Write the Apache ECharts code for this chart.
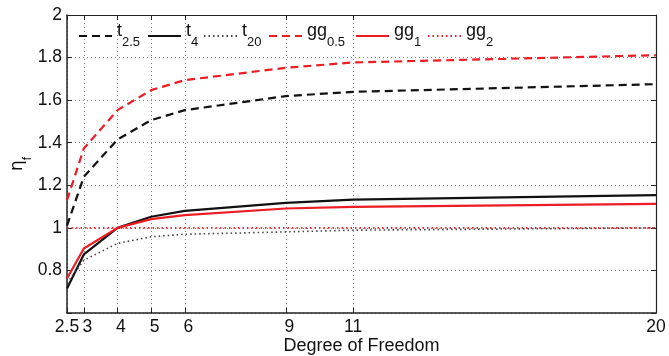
<!DOCTYPE html>
<html>
<head>
<meta charset="utf-8">
<script src="https://cdn.jsdelivr.net/npm/echarts@6/dist/echarts.min.js"></script>
<style>
  html, body { margin: 0; padding: 0; background: #fff; }
  #chart { width: 669px; height: 356px; }
</style>
</head>
<body>
<div id="chart"></div>
<script>
// degrees of freedom where the curves were evaluated (also the x ticks)
const dof = [2.5, 3, 4, 5, 6, 9, 11, 20];

// eta_f values
const t25  = [1.01, 1.24, 1.415, 1.506, 1.553, 1.619, 1.639, 1.675];
const t4   = [0.715, 0.875, 1.0, 1.052, 1.08, 1.117, 1.133, 1.154];
const t20  = [0.74, 0.848, 0.927, 0.958, 0.97, 0.981, 0.989, 1.0];
const gg05 = [1.13, 1.373, 1.553, 1.647, 1.694, 1.752, 1.777, 1.811];
const gg1  = [0.762, 0.903, 1.0, 1.041, 1.06, 1.091, 1.099, 1.113];
const gg2  = [1, 1, 1, 1, 1, 1, 1, 1];

const seriesNames = ['t_2.5', 't_4', 't_20', 'gg_0.5', 'gg_1', 'gg_2'];

const BLACK = '#111';
const RED = '#ec1c24';
const DASH = [8, 5];
const DOT = [1.5, 3];

// x pixel where each legend entry starts (matlab spaces them unevenly)
const legendLeft = [78, 147, 203, 268, 355, 427];

function zip(ys) {
  return dof.map(function (x, i) { return [x, ys[i]]; });
}

function mkSeries(name, ys, color, type) {
  return {
    name: name,
    type: 'line',
    data: zip(ys),
    symbol: 'none',
    animation: false,
    lineStyle: { color: color, width: type === 'dotted' ? 1.6 : 2.2, type: type === 'dashed' ? DASH : (type === 'dotted' ? DOT : 'solid') },
    itemStyle: { color: color }
  };
}

const chart = echarts.init(document.getElementById('chart'));

const labelFont = { fontFamily: 'Liberation Sans', fontSize: 17.5, color: '#111' };

// x tick labels: single digits sit a bit right of their tick, like the original
function xLabel(v) {
  return (v < 10 && v % 1 === 0) ? '{d|' + v + '}' : String(v);
}
const xLabelRich = { d: { fontFamily: 'Liberation Sans', fontSize: 17.5, color: '#111', padding: [0, 0, 0, 7] } };

const legendRich = {
  m: { fontFamily: 'Liberation Sans', fontSize: 18, lineHeight: 18, padding: [0, 0, 10, 0], color: '#111' },
  s: { fontFamily: 'Liberation Sans', fontSize: 13, lineHeight: 13, padding: [12, 0, 0, 0], color: '#111' }
};

const legends = seriesNames.map(function (n, i) {
  return {
    left: legendLeft[i],
    top: 22,
    padding: 0,
    itemWidth: 33,
    itemHeight: 14,
    data: [n],
    itemStyle: { opacity: 0 },
    formatter: function (name) {
      const p = name.split('_');
      return '{m|' + p[0] + '}{s|' + p[1] + '}';
    },
    textStyle: { rich: legendRich }
  };
});

chart.setOption({
  backgroundColor: '#fff',
  animation: false,
  grid: { left: 67, right: 13, top: 15, bottom: 43, outerBoundsMode: 'none' },
  legend: legends,
  xAxis: [{
    type: 'value',
    min: 2.5,
    max: 20,
    position: 'bottom',
    name: 'Degree of Freedom',
    nameLocation: 'middle',
    nameGap: 24,
    nameMoveOverlap: false,
    nameTextStyle: { fontFamily: 'Liberation Sans', fontSize: 18, color: '#111' },
    axisLine: { lineStyle: { color: '#222', width: 1.5 } },
    axisTick: { inside: true, length: 5, customValues: dof, lineStyle: { color: '#222' } },
    axisLabel: Object.assign({
      customValues: dof.filter(function (v) { return v !== 3; }),
      margin: 5, showMinLabel: true, showMaxLabel: true, hideOverlap: false,
      formatter: xLabel, rich: xLabelRich
    }, labelFont),
    splitLine: { show: true, lineStyle: { color: '#888', type: [1, 3], width: 1 } }
  }, {
    // carries only the "3" label, which would otherwise collide with "2.5"
    type: 'value',
    min: 2.5,
    max: 20,
    position: 'bottom',
    axisLine: { show: false },
    axisTick: { show: false },
    axisLabel: Object.assign({
      customValues: [3], margin: 5, showMinLabel: true, showMaxLabel: true,
      formatter: xLabel, rich: xLabelRich
    }, labelFont),
    splitLine: { show: false }
  }, {
    type: 'value',
    min: 2.5,
    max: 20,
    position: 'top',
    axisLine: { lineStyle: { color: '#222', width: 1.2 } },
    axisTick: { inside: true, length: 5, customValues: dof, lineStyle: { color: '#222' } },
    axisLabel: { show: false },
    splitLine: { show: false }
  }],
  yAxis: [{
    type: 'value',
    min: 0.6,
    max: 2,
    interval: 0.2,
    position: 'left',
    name: '{m|η}{s|f}',
    nameLocation: 'middle',
    nameRotate: 90,
    nameGap: 33,
    nameMoveOverlap: false,
    nameTextStyle: {
      rich: {
        m: { fontFamily: 'DejaVu Sans', fontSize: 17, lineHeight: 18, padding: [0, 0, 14, 0], color: '#111' },
        s: { fontFamily: 'Liberation Sans', fontSize: 12, lineHeight: 12, padding: [6, 0, 0, 0], color: '#111' }
      }
    },
    axisLine: { show: true, lineStyle: { color: '#222', width: 1.5 } },
    axisTick: { show: true, inside: true, length: 5, lineStyle: { color: '#222' } },
    axisLabel: Object.assign({
      margin: 5,
      formatter: function (v) { return Math.abs(v - 0.6) < 1e-6 ? '' : String(Math.round(v * 10) / 10); }
    }, labelFont),
    splitLine: { show: true, lineStyle: { color: '#888', type: [1, 3], width: 1 } }
  }, {
    type: 'value',
    min: 0.6,
    max: 2,
    interval: 0.2,
    position: 'right',
    axisLine: { show: true, lineStyle: { color: '#222', width: 1.2 } },
    axisTick: { show: true, inside: true, length: 5, lineStyle: { color: '#222' } },
    axisLabel: { show: false },
    splitLine: { show: false }
  }],
  series: [
    mkSeries('t_2.5', t25, BLACK, 'dashed'),
    mkSeries('t_4', t4, BLACK, 'solid'),
    mkSeries('t_20', t20, '#444', 'dotted'),
    mkSeries('gg_0.5', gg05, RED, 'dashed'),
    mkSeries('gg_1', gg1, RED, 'solid'),
    mkSeries('gg_2', gg2, RED, 'dotted')
  ]
});
</script>
</body>
</html>
